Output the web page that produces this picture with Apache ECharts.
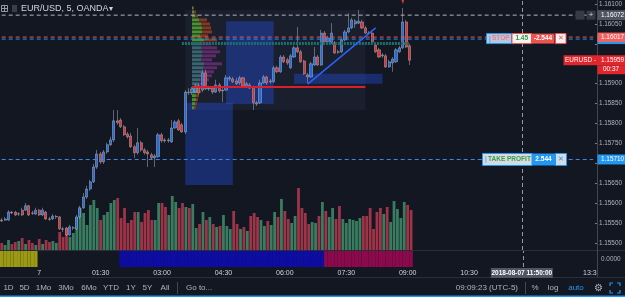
<!DOCTYPE html>
<html>
<head>
<meta charset="utf-8">
<script src="https://cdn.jsdelivr.net/npm/echarts@6.0.0/dist/echarts.min.js"></script>
<style>
  html, body { margin: 0; padding: 0; background: #131722; }
  #chart { width: 625px; height: 297px; }
</style>
</head>
<body>
<div id="chart"></div>
<script>
// EUR/USD 5 min bars, first bar 23:05 (Aug 6) -> last bar 09:05 (Aug 7)
// [open, close, low, high]
const candles = [
  [1.15558, 1.15556, 1.15553, 1.15563], [1.15558, 1.15561, 1.15556, 1.15566],
  [1.15558, 1.15578, 1.15556, 1.15583], [1.15578, 1.15576, 1.15573, 1.15581],
  [1.15578, 1.15571, 1.15568, 1.15581], [1.15573, 1.15574, 1.15568, 1.15578],
  [1.15583, 1.15571, 1.15568, 1.15589], [1.15583, 1.15594, 1.15581, 1.15601],
  [1.15594, 1.15571, 1.15568, 1.15596], [1.15576, 1.15575, 1.15571, 1.15581],
  [1.15573, 1.15583, 1.15571, 1.15589], [1.15583, 1.15571, 1.15568, 1.15586],
  [1.15571, 1.15583, 1.15568, 1.15589], [1.15578, 1.15561, 1.15558, 1.15581],
  [1.15561, 1.15560, 1.15556, 1.15566], [1.15561, 1.15568, 1.15558, 1.15573],
  [1.15566, 1.15567, 1.15561, 1.15571], [1.15566, 1.15536, 1.15533, 1.15568],
  [1.15536, 1.15535, 1.15528, 1.15541], [1.15538, 1.15521, 1.15518, 1.15541],
  [1.15521, 1.15541, 1.15518, 1.15546], [1.15538, 1.15539, 1.15533, 1.15543],
  [1.15536, 1.15566, 1.15533, 1.15571], [1.15566, 1.15589, 1.15561, 1.15594],
  [1.15589, 1.15616, 1.15586, 1.15626], [1.15616, 1.15636, 1.15611, 1.15644],
  [1.15636, 1.15654, 1.15631, 1.15659], [1.15654, 1.15691, 1.15651, 1.15699],
  [1.15691, 1.15724, 1.15686, 1.15734], [1.15724, 1.15704, 1.15699, 1.15729],
  [1.15704, 1.15729, 1.15699, 1.15734], [1.15729, 1.15747, 1.15724, 1.15752],
  [1.15747, 1.15759, 1.15744, 1.15767], [1.15759, 1.15807, 1.15754, 1.15834],
  [1.15807, 1.15802, 1.15797, 1.15834], [1.15809, 1.15792, 1.15789, 1.15814],
  [1.15792, 1.15772, 1.15769, 1.15797], [1.15774, 1.15767, 1.15762, 1.15779],
  [1.15769, 1.15742, 1.15739, 1.15777], [1.15742, 1.15727, 1.15714, 1.15747],
  [1.15727, 1.15752, 1.15722, 1.15789], [1.15752, 1.15734, 1.15729, 1.15757],
  [1.15734, 1.15727, 1.15722, 1.15739], [1.15729, 1.15724, 1.15691, 1.15734],
  [1.15722, 1.15714, 1.15709, 1.15727], [1.15714, 1.15719, 1.15691, 1.15724],
  [1.15717, 1.15772, 1.15714, 1.15777], [1.15772, 1.15757, 1.15752, 1.15777],
  [1.15759, 1.15757, 1.15752, 1.15764], [1.15757, 1.15759, 1.15752, 1.15764],
  [1.15754, 1.15789, 1.15752, 1.15809], [1.15789, 1.15804, 1.15787, 1.15809],
  [1.15807, 1.15784, 1.15782, 1.15812], [1.15797, 1.15779, 1.15777, 1.15802],
  [1.15779, 1.15879, 1.15774, 1.15884], [1.15879, 1.15878, 1.15872, 1.15889],
  [1.15877, 1.15887, 1.15872, 1.15892], [1.15879, 1.15895, 1.15877, 1.15900],
  [1.15895, 1.15877, 1.15872, 1.15900], [1.15884, 1.15927, 1.15879, 1.15935],
  [1.15927, 1.15887, 1.15884, 1.15935], [1.15887, 1.15889, 1.15882, 1.15895],
  [1.15889, 1.15879, 1.15874, 1.15895], [1.15879, 1.15897, 1.15877, 1.15910],
  [1.15897, 1.15882, 1.15877, 1.15902], [1.15882, 1.15884, 1.15854, 1.15889],
  [1.15884, 1.15915, 1.15882, 1.15922], [1.15912, 1.15915, 1.15907, 1.15920],
  [1.15912, 1.15905, 1.15902, 1.15917], [1.15907, 1.15900, 1.15897, 1.15915],
  [1.15902, 1.15915, 1.15897, 1.15920], [1.15915, 1.15895, 1.15892, 1.15917],
  [1.15895, 1.15900, 1.15889, 1.15905], [1.15897, 1.15889, 1.15887, 1.15902],
  [1.15892, 1.15852, 1.15834, 1.15895], [1.15852, 1.15849, 1.15844, 1.15857],
  [1.15852, 1.15902, 1.15849, 1.15910], [1.15902, 1.15917, 1.15900, 1.15922],
  [1.15917, 1.15902, 1.15897, 1.15920], [1.15905, 1.15907, 1.15900, 1.15912],
  [1.15905, 1.15940, 1.15902, 1.15945], [1.15940, 1.15930, 1.15927, 1.15945],
  [1.15930, 1.15967, 1.15927, 1.15972], [1.15967, 1.15955, 1.15952, 1.15972],
  [1.15960, 1.15952, 1.15947, 1.15965], [1.15940, 1.15970, 1.15937, 1.15975],
  [1.15967, 1.15990, 1.15965, 1.15995], [1.15990, 1.15980, 1.15977, 1.16042],
  [1.15980, 1.15955, 1.15952, 1.15985], [1.15957, 1.15925, 1.15922, 1.15960],
  [1.15922, 1.15917, 1.15902, 1.15927], [1.15917, 1.15950, 1.15915, 1.15955],
  [1.15947, 1.15967, 1.15945, 1.15992], [1.15967, 1.15947, 1.15945, 1.15972],
  [1.15947, 1.16027, 1.15945, 1.16035], [1.16027, 1.16005, 1.16002, 1.16032],
  [1.16005, 1.16015, 1.16002, 1.16020], [1.16002, 1.16027, 1.16000, 1.16052],
  [1.16002, 1.15977, 1.15975, 1.16007], [1.15980, 1.15979, 1.15975, 1.15985],
  [1.15980, 1.16010, 1.15977, 1.16015], [1.16010, 1.16030, 1.16007, 1.16035],
  [1.16030, 1.16040, 1.16027, 1.16077], [1.16040, 1.16060, 1.16037, 1.16065],
  [1.16050, 1.16057, 1.16040, 1.16062], [1.16052, 1.16057, 1.16050, 1.16085],
  [1.16055, 1.16040, 1.16037, 1.16060], [1.16040, 1.16027, 1.16025, 1.16045],
  [1.16027, 1.16026, 1.16022, 1.16032], [1.16027, 1.16005, 1.16002, 1.16032],
  [1.15997, 1.15980, 1.15977, 1.16002], [1.15985, 1.15967, 1.15965, 1.15990],
  [1.15970, 1.15972, 1.15965, 1.15977], [1.15970, 1.15942, 1.15940, 1.15975],
  [1.15942, 1.15955, 1.15940, 1.15960], [1.15952, 1.15962, 1.15930, 1.15967],
  [1.15955, 1.15985, 1.15952, 1.15990], [1.15980, 1.15990, 1.15977, 1.15995],
  [1.15990, 1.16055, 1.15987, 1.16090], [1.16055, 1.15992, 1.15990, 1.16060],
  [1.15995, 1.15959, 1.15947, 1.16000]
];

const volumes = [
  70, 50, 100, 60, 80, 90, 120, 60, 100, 70, 50, 110, 60, 100, 80, 90, 70,
  180, 130, 220, 130, 170, 330, 420, 370, 250, 450, 500, 420, 300, 350, 380,
  470, 500, 520, 320, 420, 270, 300, 380, 380, 280, 370, 400, 300, 300, 470,
  470, 430, 350, 540, 480, 420, 470, 430, 420, 460, 220, 260, 380, 300, 330,
  260, 230, 240, 350, 240, 210, 390, 260, 210, 230, 190, 340, 370, 330, 300,
  240, 290, 250, 380, 330, 510, 390, 310, 270, 340, 620, 420, 370, 260, 280,
  270, 340, 480, 390, 330, 420, 310, 440, 310, 270, 310, 300, 290, 320, 340,
  340, 420, 210, 380, 420, 360, 430, 280, 490, 410, 320, 480, 450, 400
];

// volume profile (visible range)
const profilePrices = [
  1.16090, 1.16080, 1.16070, 1.16060, 1.16050, 1.16040, 1.16030, 1.16020, 1.16010,
  1.16000, 1.15990, 1.15980, 1.15970, 1.15960, 1.15950, 1.15940, 1.15930, 1.15920,
  1.15910, 1.15900, 1.15890, 1.15880, 1.15870, 1.15860, 1.15850, 1.15840
];
const profileBuy  = [1, 2, 3, 7, 9, 10, 10, 8, 12, 10, 9, 10, 10, 9, 12, 11, 10, 9, 8, 7, 6, 5, 4, 4, 3, 2];
const profileSell = [1, 2, 3, 8, 9, 9, 10, 8, 13, 9, 16, 18, 14, 11, 18, 14, 12, 11, 9, 6, 4, 4, 3, 2, 2, 2];
const valueAreaHigh = 1.16000, valueAreaLow = 1.15900;

// drawn zones: [from bar, to bar, high, low]
const zoneFrom = [54, 54, 66, 86];
const zoneTo   = [107, 68, 80, 112];
const zoneHigh = [1.16085, 1.15852, 1.16057, 1.15925];
const zoneLow  = [1.15834, 1.15646, 1.15849, 1.15900];

// session bands of the lower pane
const bandFrom = [0, 35, 95];
const bandTo   = [10, 94, 120];

// price scale labels
const priceTicks = [1.155, 1.1555, 1.156, 1.1565, 1.157, 1.1575, 1.158, 1.1585, 1.159, 1.1595, 1.16, 1.1605, 1.161];
const priceLabels = [1.155, 1.1555, 1.156, 1.1565, 1.1575, 1.158, 1.1585, 1.159, 1.1605, 1.161];

// levels
const crossPrice = 1.16072, crossBar = 153;
const stopPrice = 1.16017, entryPrice = 1.16012, lastPrice = 1.15959, takeProfitPrice = 1.15710;
const pocPrice = 1.16002, pocFrom = 53, pocTo = 120;
const levelPrice = 1.15892, levelFrom = 56, levelTo = 107;
const trendFrom = [90, 1.15899], trendTo = [110, 1.16040];
const alertMark = [118, 1.16100];

// 5 min time slots from 23:05
const BAR_COUNT = 175;
const times = [];
for (let i = 0; i < BAR_COUNT; i++) {
  const m = (23 * 60 + 5 + i * 5) % 1440;
  times.push(String(Math.floor(m / 60)).padStart(2, '0') + ':' + String(m % 60).padStart(2, '0'));
}

const BG = '#131722';
const FONT = '"Liberation Sans", Arial, sans-serif';
const PRICE_MIN = 1.15483, PRICE_MAX = 1.16110;
const TAG = 6.4;
const bandColors = ['#9c9a14', '#0d0da6', '#8c0a4c'];
const dashed = color => ({ color, width: 1, type: [4, 3] });

// full-width horizontal levels drawn as two-point line series
const levelSeries = (price, color) => ({
  type: 'line', xAxisIndex: 0, yAxisIndex: 0, z: 4, silent: true,
  symbol: 'none', showSymbol: false,
  data: [[0, price], [BAR_COUNT - 1, price]],
  lineStyle: { color, width: 1, type: [4, 3] }
});

const chart = echarts.init(document.getElementById('chart'));

const isUp = i => candles[i][1] >= candles[i][0];

const sessionData = times.map((t, i) => {
  for (let k = 0; k < bandFrom.length; k++) {
    if (i >= bandFrom[k] && i <= bandTo[k]) return { value: 1, itemStyle: { color: bandColors[k] } };
  }
  return '-';
});

chart.setOption({
  backgroundColor: BG,
  animation: false,
  grid: [
    { left: -1, right: 28, top: 0, height: 250 },
    { left: -1, right: 28, top: 150, height: 100 },
    { left: 192, width: 40, top: 0, height: 250 },
    { left: -1, right: 28, top: 251, height: 16 }
  ],
  xAxis: [
    { gridIndex: 0, type: 'category', data: times, show: false },
    { gridIndex: 1, type: 'category', data: times, show: false },
    { gridIndex: 2, type: 'value', min: 0, max: 40, show: false },
    {
      gridIndex: 3, type: 'category', data: times,
      axisLine: { show: false }, axisTick: { show: false },
      axisLabel: {
        margin: 3, fontSize: 7, color: '#d1d4dc', fontFamily: FONT, hideOverlap: false,
        interval: (idx, v) => {
          const m = parseInt(v.slice(0, 2)) * 60 + parseInt(v.slice(3));
          return idx >= 11 && m % 90 === 0;
        },
        formatter: v => v === '00:00' ? '7' : v
      }
    }
  ],
  yAxis: [
    {
      gridIndex: 0, type: 'value', position: 'right', min: PRICE_MIN, max: PRICE_MAX,
      splitLine: { show: false }, axisLine: { show: false },
      axisTick: { show: true, length: 3, lineStyle: { color: '#787b86' }, customValues: priceTicks },
      axisLabel: {
        margin: 4, fontSize: TAG, color: '#b2b5be', fontFamily: FONT,
        customValues: priceLabels,
        formatter: v => v.toFixed(5)
      }
    },
    { gridIndex: 1, type: 'value', min: 0, max: 1000, show: false },
    { gridIndex: 2, type: 'value', min: PRICE_MIN, max: PRICE_MAX, show: false },
    { gridIndex: 3, type: 'value', min: 0, max: 1, show: false }
  ],
  series: [
    {
      type: 'bar', xAxisIndex: 1, yAxisIndex: 1, z: 1, silent: true,
      barCategoryGap: '18%',
      data: volumes.map((v, i) => ({ value: v, itemStyle: { color: isUp(i) ? '#3a7c60' : '#9e3447' } }))
    },
    {
      type: 'custom', xAxisIndex: 2, yAxisIndex: 2, z: 2, silent: true,
      data: profilePrices.map((p, i) => [p, profileBuy[i], profileSell[i]]),
      renderItem: (params, api) => {
        const p = api.value(0), buy = api.value(1), sell = api.value(2);
        const inVA = p <= valueAreaHigh + 1e-7 && p >= valueAreaLow - 1e-7;
        const top = api.coord([0, p + 0.00005]);
        const bot = api.coord([0, p - 0.00005]);
        const xb = api.coord([buy, p])[0];
        const xt = api.coord([buy + sell, p])[0];
        const h = bot[1] - top[1] - 1;
        return {
          type: 'group', children: [
            { type: 'rect', shape: { x: top[0], y: top[1] + 0.5, width: xb - top[0], height: h },
              style: { fill: inVA ? '#3a6570' : '#4c922c' } },
            { type: 'rect', shape: { x: xb, y: top[1] + 0.5, width: xt - xb, height: h },
              style: { fill: inVA ? '#5e2a68' : '#83391d' } }
          ]
        };
      }
    },
    {
      type: 'candlestick', xAxisIndex: 0, yAxisIndex: 0, z: 3, silent: true,
      data: candles,
      barWidth: '78%',
      itemStyle: {
        color: '#1f6be0', color0: '#e0302f',
        borderColor: '#aeb3bd', borderColor0: '#aeb3bd', borderColorDoji: '#aeb3bd',
        borderWidth: 0.5
      },
      markPoint: {
        silent: true, symbol: 'arrow', symbolRotate: 180, symbolSize: [3, 6],
        itemStyle: { color: '#e53935' }, label: { show: false },
        data: [{ coord: alertMark }]
      },
      markArea: {
        silent: true,
        data: zoneFrom.map((f, k) => [
          { xAxis: f, yAxis: zoneHigh[k], itemStyle: { color: k === 0 ? '#1a1f2e' : 'rgba(37,82,230,0.38)' } },
          { xAxis: zoneTo[k], yAxis: zoneLow[k] }
        ])
      },
      markLine: {
        silent: true, symbol: ['none', 'none'], label: { show: false },
        data: [
          [{ coord: [pocFrom, pocPrice] }, { coord: [pocTo, pocPrice], lineStyle: { color: '#1d6e6e', width: 3, type: [2, 1] } }],
          [{ coord: [levelFrom, levelPrice] }, { coord: [levelTo, levelPrice], lineStyle: { color: '#d91f2e', width: 2, type: 'solid' } }],
          [{ coord: trendFrom }, { coord: trendTo, lineStyle: { color: '#2962ff', width: 1.5, type: 'solid' } }],
          { xAxis: crossBar, lineStyle: dashed('#9598a1') }
        ]
      }
    },
    levelSeries(crossPrice, '#b2b5be'),
    levelSeries(stopPrice, '#ef5350'),
    levelSeries(entryPrice, '#2196f3'),
    levelSeries(takeProfitPrice, '#3d86e8'),
    {
      type: 'bar', xAxisIndex: 3, yAxisIndex: 3, silent: true, barCategoryGap: '0%',
      data: sessionData,
      markLine: {
        silent: true, symbol: ['none', 'none'], label: { show: false },
        data: [{ xAxis: crossBar, lineStyle: dashed('#9598a1') }]
      }
    }
  ]
});

// overlay: labels, toolbar, separators
const Y = p => chart.convertToPixel({ yAxisIndex: 0 }, p);
const X = i => chart.convertToPixel({ xAxisIndex: 0 }, i);
const g = [];
function rect(x, y, w, h, fill, stroke) {
  g.push({ type: 'rect', z: 100, silent: true, shape: { x, y, width: w, height: h },
    style: { fill: fill || 'none', stroke: stroke || null, lineWidth: 1 } });
}
function text(x, y, s, color, size, align, weight) {
  g.push({ type: 'text', z: 101, silent: true, x, y,
    style: { text: s, fill: color, font: (weight || 'normal') + ' ' + size + 'px ' + FONT,
      align: align || 'left', verticalAlign: 'middle' } });
}
function line(x1, y1, x2, y2, color, w) {
  g.push({ type: 'line', z: 100, silent: true, shape: { x1, y1, x2, y2 }, style: { stroke: color, lineWidth: w || 1 } });
}

// pane separators and price scale border
line(0, 250.5, 625, 250.5, '#2a2e39');
line(597.5, 0, 597.5, 277, '#434651');
rect(598, 268, 27, 9, BG);
line(0, 277.5, 625, 277.5, '#2a2e39');
rect(0, 295.5, 625, 1.5, '#2196f3');
text(601, 259, '0.0000', '#b2b5be', TAG);

// title
rect(1.5, 5.5, 6, 6, null, '#9598a1');
line(4.5, 6, 4.5, 11, '#9598a1');
line(2, 8.5, 7, 8.5, '#9598a1');
rect(12, 5, 5, 7, '#3a3e4a');
text(21, 9, 'EUR/USD, 5, OANDA', '#d1d4dc', 9);
text(109, 9, '▾', '#d1d4dc', 8);

// crosshair price tag + buttons
const yc = Y(crossPrice);
rect(575.5, yc - 4.5, 9, 9, '#363a45');
rect(586.5, yc - 4.5, 9, 9, '#363a45');
text(591, yc, '+', '#d1d4dc', 8, 'center');
rect(597.5, yc - 5, 27.5, 10, '#4f5562');
text(601, yc, crossPrice.toFixed(5), '#ffffff', TAG);

// entry / stop tags
const ye = Y(entryPrice);
rect(597.5, ye - 4, 27.5, 9, '#2196f3');
const ys = Y(stopPrice);
rect(597.5, ys - 4.5, 27.5, 9.5, '#f0625f');
text(601, ys, stopPrice.toFixed(5), '#ffffff', TAG);

// stop order label
const yo = ys + 1.5;
rect(486.5, yo - 5, 25, 10, '#b9c6dc', '#2196f3');
text(489, yo, '|', '#2196f3', 7);
text(492, yo, 'STOP', '#ee8080', 6.5, 'left', 'bold');
rect(512, yo - 5, 19.5, 10, '#f3f3f3', '#ef5350');
text(521.75, yo, '1.45', '#2f9a3c', 6.5, 'center', 'bold');
rect(531.5, yo - 5, 23, 10, '#ef5350');
text(543, yo, '-2.544', '#ffffff', 6.5, 'center', 'bold');
rect(555.5, yo - 5, 10.5, 10, '#f3f3f3', '#ef5350');
text(560.75, yo, '✕', '#ef5350', 6.5, 'center');

// last price tag
const yl = Y(lastPrice);
rect(563.5, yl - 5, 61.5, 10, '#e0262c');
text(596, yl, 'EURUSD -', '#ffffff', TAG, 'right');
text(601, yl, lastPrice.toFixed(5), '#ffffff', TAG);
rect(597.5, yl + 5, 27.5, 9, '#e0262c');
text(611, yl + 9.5, '00:37', '#ffffff', TAG, 'center');

// take profit
const yt = Y(takeProfitPrice);
rect(482.5, yt - 6, 49.5, 12, '#d5dae3', '#2196f3');
text(485, yt, '|', '#2196f3', 7);
text(488, yt, 'TAKE PROFIT', '#3aa04a', 6.5, 'left', 'bold');
rect(532, yt - 6, 23, 12, '#2196f3');
text(543.5, yt, '2.544', '#ffffff', 6.5, 'center', 'bold');
rect(555.5, yt - 6, 11, 12, '#d5dae3', '#2196f3');
text(561, yt, '✕', '#2196f3', 6.5, 'center');
rect(597.5, yt - 5, 27.5, 10, '#2196f3');
text(601, yt, takeProfitPrice.toFixed(5), '#ffffff', TAG);

// crosshair time tag
const xc = X(crossBar);
rect(xc - 31, 268, 62, 10, '#4f5562');
text(xc, 273, '2018-08-07 11:50:00', '#ffffff', 6.5, 'center', 'bold');

// bottom toolbar
const ranges = [['1D', 8.5], ['5D', 24.5], ['1Mo', 43.5], ['3Mo', 66], ['6Mo', 89], ['YTD', 111], ['1Y', 131], ['5Y', 147.5], ['All', 165]];
ranges.forEach(r => text(r[1], 288, r[0], '#b2b5be', 8, 'center'));
line(177.5, 282, 177.5, 294, '#434651');
text(186, 288, 'Go to...', '#b2b5be', 8);
text(518, 288, '09:09:23 (UTC-5)', '#b2b5be', 8, 'right');
line(525.5, 282, 525.5, 294, '#434651');
text(535, 288, '%', '#b2b5be', 8, 'center');
text(553, 288, 'log', '#b2b5be', 8, 'center');
text(576, 288, 'auto', '#2196f3', 8, 'center');
text(598, 288, '⚙', '#b2b5be', 10, 'center');
[[[610, 286], [610, 283], [613, 283]], [[617, 283], [620, 283], [620, 286]],
 [[610, 290], [610, 293], [613, 293]], [[617, 293], [620, 293], [620, 290]]].forEach(pts =>
  g.push({ type: 'polyline', z: 100, silent: true, shape: { points: pts }, style: { stroke: '#2196f3', fill: null, lineWidth: 1.2 } }));

chart.setOption({ graphic: g });
</script>
</body>
</html>
